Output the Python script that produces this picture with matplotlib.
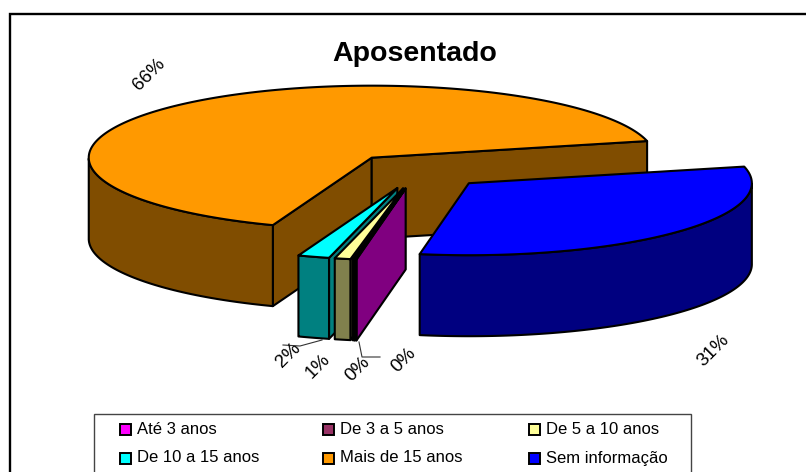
import numpy as np
import matplotlib
matplotlib.use('Agg')
import matplotlib.pyplot as plt
from matplotlib.patches import Polygon, Rectangle

# dados
categorias = ['Até 3 anos', 'De 3 a 5 anos', 'De 5 a 10 anos',
              'De 10 a 15 anos', 'Mais de 15 anos', 'Sem informação']
valores = [0.1, 0.1, 0.9, 1.8, 65.55, 31.45]
cores = ['#FF00FF', '#993366', '#FFFF99', '#00FFFF', '#FF9900', '#0000FF']

# posição dos rótulos e linhas de chamada (pixels da figura)
pos_rotulos = [(404, 360), (358, 369), (318, 366), (288, 355), (149, 75), (713, 351)]
chamadas = [[(359, 342), (362, 357), (380, 357)], [(283, 345), (300, 346), (322, 340)]]

# geometria da pizza 3D
CX, CY = 418, 171
RX, RY = 283, 72
PROF = 81
EXPL = 0.247
INICIO = -100.0

plt.rcParams['font.family'] = ['Liberation Sans', 'DejaVu Sans']

fig = plt.figure(figsize=(8.06, 4.72), dpi=100)
ax = fig.add_axes([0, 0, 1, 1])
ax.set_xlim(0, 806)
ax.set_ylim(472, 0)
ax.axis('off')

# moldura: a direita e a base ficam fora do recorte
ax.add_patch(Rectangle((9.5, 13.5), 820, 480, fc='white', ec='black', lw=1.7))


def ponto(cx, cy, ang):
    a = np.radians(ang)
    return cx + RX * np.cos(a), cy - RY * np.sin(a)


def escurece(cor):
    r, g, b = matplotlib.colors.to_rgb(cor)
    return (r * 0.5, g * 0.5, b * 0.5)


def fatia(a0, a1, cor, z):
    # a0 > a1, sentido horário
    meio = np.radians((a0 + a1) / 2)
    cx = CX + EXPL * RX * np.cos(meio)
    cy = CY - EXPL * RY * np.sin(meio)
    lateral = escurece(cor)
    estilo = dict(ec='black', lw=1.5, joinstyle='round', zorder=z)

    # faces radiais, só as que dão para a frente
    visiveis = [ang for ang, s in ((a0, -1), (a1, 1)) if s * np.cos(np.radians(ang)) > 0]
    for ang in visiveis:
        x, y = ponto(cx, cy, ang)
        ax.add_patch(Polygon([(cx, cy), (x, y), (x, y + PROF), (cx, cy + PROF)],
                             fc=lateral, **estilo))

    # parede externa: só a parte de frente (seno negativo)
    angs = np.linspace(a0, a1, 200)
    frente = angs[np.sin(np.radians(angs)) <= 0]
    if len(frente) > 1:
        xs, ys = ponto(cx, cy, frente)
        topo = np.column_stack([xs, ys])
        base = np.column_stack([xs, ys + PROF])[::-1]
        ax.add_patch(Polygon(np.vstack([topo, base]), fc=lateral, **estilo))

    # tampa
    xs, ys = ponto(cx, cy, angs)
    ax.add_patch(Polygon(np.vstack([[(cx, cy)], np.column_stack([xs, ys])]),
                         fc=cor, **estilo))


fracoes = np.array(valores) / sum(valores)
fins = INICIO - 360 * np.cumsum(fracoes)
inicios = np.r_[INICIO, fins[:-1]]

# ordem de desenho, de trás para a frente
for z, i in enumerate([4, 5, 3, 2, 1, 0]):
    fatia(inicios[i], fins[i], cores[i], 3 + z)

for i, (x, y) in enumerate(pos_rotulos):
    ax.text(x, y, f'{fracoes[i] * 100:.0f}%', rotation=45, fontsize=13.5,
            ha='center', va='center', color='black', zorder=12)

for linha in chamadas:
    xs, ys = zip(*linha)
    ax.plot(xs, ys, color='#333333', lw=0.8, zorder=2)

ax.text(415, 54, 'Aposentado', fontsize=20.5, fontweight='bold',
        ha='center', va='center', zorder=12)

# legenda
ax.add_patch(Rectangle((93.5, 413.5), 597, 80, fc='white', ec='#444444', lw=1.0, zorder=10))
col_x = [120, 323, 529]
lin_y = [429, 458]
for i, nome in enumerate(categorias):
    x = col_x[i % 3]
    y = lin_y[i // 3]
    ax.add_patch(Rectangle((x, y - 5.5), 11, 11, fc=cores[i], ec='black', lw=1.4, zorder=11))
    ax.text(x + 17, y, nome, fontsize=12, ha='left', va='center', zorder=12)

fig.savefig('out.png', dpi=100)
